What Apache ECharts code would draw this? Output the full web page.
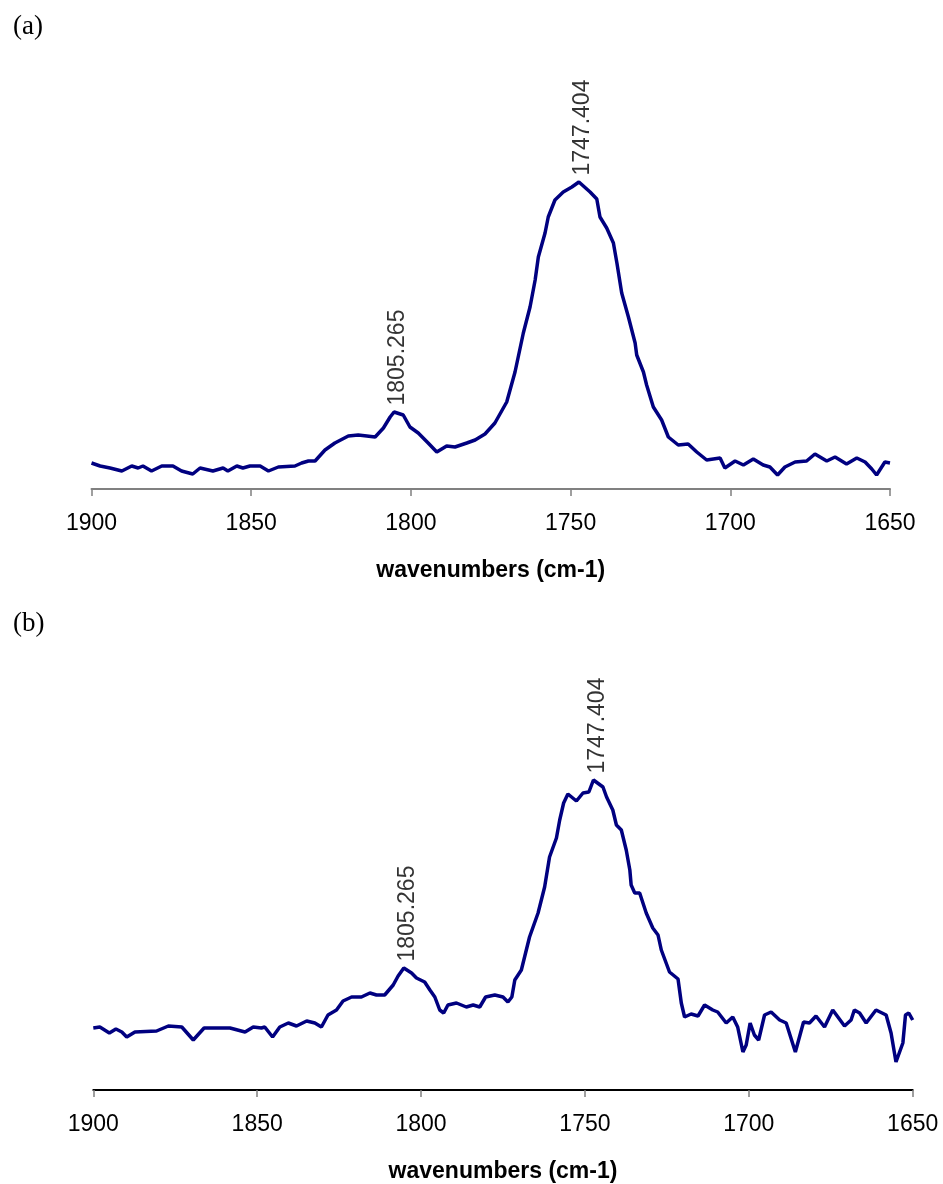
<!DOCTYPE html>
<html>
<head>
<meta charset="utf-8">
<script src="https://cdn.jsdelivr.net/npm/echarts@6/dist/echarts.min.js"></script>
<style>
html,body{margin:0;padding:0;background:#fff;}
#c{width:943px;height:1184px;}
</style>
</head>
<body>
<div id="c"></div>
<script>
// ---- data (arbitrary absorbance units) ----
var xTicks = [1900, 1850, 1800, 1750, 1700, 1650];
var axisTitle = 'wavenumbers (cm-1)';
var panelLabels = ['(a)', '(b)'];

var wavenumbersA = [1900,1897.3,1894.2,1890.5,1887.4,1885.4,1883.9,1881.2,1878.0,1874.5,1871.8,1868.3,1866.0,1862.0,1858.8,1857.3,1854.5,1852.6,1850.4,1847.2,1844.6,1841.5,1836.3,1834.2,1832.1,1830.0,1826.9,1823.8,1819.6,1816.5,1813.8,1811.2,1808.6,1806.5,1805.265,1802.4,1800.3,1797.7,1794.6,1791.9,1788.8,1786.2,1782.5,1779.9,1776.8,1773.7,1770.0,1767.4,1764.8,1762.7,1761.1,1760.1,1758.0,1757.0,1754.9,1752.3,1749.6,1747.404,1743.9,1741.8,1740.8,1738.7,1736.6,1735.5,1734.0,1731.9,1729.8,1729.3,1727.2,1726.2,1724.1,1721.5,1719.4,1716.3,1713.2,1710.5,1707.4,1703.2,1701.7,1698.5,1695.9,1692.8,1689.7,1687.6,1685.2,1682.9,1679.7,1676.1,1673.5,1669.8,1667.2,1663.6,1660.4,1657.8,1655.7,1654.2,1651.6,1650];
var absorbanceA = [26,23,21,18,23,21,23,18,23,23,18,15,21,18,21,18,23,21,23,23,18,22,23,26,28,28,39,46,53,54,53,52,61,72,77,74,62,56,46,37,43,42,46,49,55,66,87,117,156,182,209,232,256,272,289,297,302,307,297,290,272,261,246,226,196,172,146,134,117,104,82,69,52,44,45,37,29,31,21,28,24,30,24,22,14,22,27,28,35,28,32,25,31,27,20,14,27,26];

var wavenumbersB = [1900,1898.0,1895.1,1893.1,1891.3,1889.8,1887.3,1880.7,1877.1,1873.0,1869.5,1866.2,1858.3,1853.7,1851.2,1848.7,1847.7,1845.3,1843.1,1840.5,1838.0,1834.9,1832.4,1830.4,1828.4,1825.8,1823.8,1821.2,1818.2,1815.6,1813.6,1811.1,1808.5,1807.0,1805.265,1802.9,1801.4,1798.9,1797.3,1795.8,1794.3,1793.1,1791.8,1789.2,1786.2,1784.1,1782.1,1780.3,1777.5,1775.0,1773.5,1772.3,1771.4,1769.4,1766.9,1764.3,1762.3,1760.8,1758.7,1757.7,1756.5,1755.2,1752.6,1750.6,1748.8,1747.404,1744.5,1743.4,1741.5,1740.4,1738.9,1737.4,1736.3,1735.9,1734.8,1733.3,1731.3,1729.3,1727.7,1726.7,1724.2,1721.6,1720.6,1719.6,1717.6,1715.5,1713.5,1711.0,1709.5,1706.9,1704.9,1703.4,1701.8,1700.8,1699.6,1698.3,1697.0,1695.2,1693.2,1690.6,1688.6,1685.8,1683.3,1681.5,1679.5,1676.9,1674.4,1670.8,1668.8,1667.8,1666.2,1664.2,1661.2,1658.1,1656.6,1655.1,1653.0,1652.2,1651.2,1650];
var absorbanceB = [62,63,57,61,58,53,58,59,64,63,50,62,62,58,63,62,63,53,63,67,64,69,67,63,75,80,89,93,93,97,95,95,105,114,122,117,112,108,100,93,80,77,85,87,83,85,83,93,95,93,88,93,110,120,153,177,203,233,252,270,287,296,289,297,298,310,303,293,280,265,260,240,220,205,197,197,177,162,155,140,118,111,87,73,76,74,85,80,78,67,73,63,38,45,67,55,50,75,78,70,67,38,68,67,74,63,80,64,70,80,77,67,80,75,57,28,47,75,77,70];

var peakWaves = [1805.265, 1747.404];
var peakHeightsA = [77, 307];
var peakHeightsB = [122, 310];

function pairs(xs, ys){ var out=[]; for(var i=0;i<xs.length;i++) out.push([xs[i], ys[i]]); return out; }
function peakData(ys){ var out=[]; for(var i=0;i<peakWaves.length;i++) out.push({value:[peakWaves[i], ys[i]], name: peakWaves[i].toFixed(3)}); return out; }

var chart = echarts.init(document.getElementById('c'), null, {renderer:'canvas'});

function xAxisFor(idx, lineColor){
  return {
    gridIndex: idx, type: 'value', inverse: true, min: 1650, max: 1900, interval: 50,
    name: axisTitle, nameLocation: 'middle', nameGap: 70,
    nameTextStyle: {fontFamily: 'Liberation Sans, Arial, sans-serif', fontWeight: 'bold', fontSize: 23, color: '#000'},
    axisLine: {show: true, onZero: false, lineStyle: {color: lineColor, width: 2}},
    axisTick: {show: true, length: 7, lineStyle: {color: '#808080', width: 1.5}},
    axisLabel: {margin: 23, fontFamily: 'Liberation Sans, Arial, sans-serif', fontSize: 23, color: '#000',
      formatter: function(v){ return xTicks.indexOf(v) >= 0 ? String(v) : ''; }},
    splitLine: {show: false}
  };
}
function yAxisFor(idx){
  return {gridIndex: idx, type: 'value', min: 0, max: 400, show: false};
}
var lineStyle = {color: '#000080', width: 3.5};
function labelSeries(idx, ys){
  return {
    type: 'scatter', xAxisIndex: idx, yAxisIndex: idx, data: peakData(ys),
    symbolSize: 1, itemStyle: {color: 'rgba(0,0,0,0)'}, silent: true,
    label: {show: true, position: 'top', distance: 6, rotate: 90, align: 'left', verticalAlign: 'middle',
      offset: [0, 4],
      formatter: function(p){ return p.name; },
      fontFamily: 'Liberation Sans, Arial, sans-serif', fontSize: 23, color: '#000'}
  };
}

chart.setOption({
  animation: false,
  backgroundColor: '#fff',
  title: [
    {text: panelLabels[0], left: 8, top: 8, textStyle: {fontFamily: 'Liberation Serif, Times New Roman, serif', fontWeight: 'normal', fontSize: 27, color: '#000'}},
    {text: panelLabels[1], left: 8, top: 605, textStyle: {fontFamily: 'Liberation Serif, Times New Roman, serif', fontWeight: 'normal', fontSize: 27, color: '#000'}}
  ],
  grid: [
    {left: 91.5, right: 53, top: 89, height: 400},
    {left: 93.3, right: 30.3, top: 690, height: 400}
  ],
  xAxis: [xAxisFor(0, '#808080'), xAxisFor(1, '#000')],
  yAxis: [yAxisFor(0), yAxisFor(1)],
  series: [
    {type: 'line', xAxisIndex: 0, yAxisIndex: 0, data: pairs(wavenumbersA, absorbanceA), showSymbol: false, symbol: 'none', lineStyle: lineStyle, silent: true},
    {type: 'line', xAxisIndex: 1, yAxisIndex: 1, data: pairs(wavenumbersB, absorbanceB), showSymbol: false, symbol: 'none', lineStyle: lineStyle, silent: true},
    labelSeries(0, peakHeightsA),
    labelSeries(1, peakHeightsB)
  ]
});
</script>
</body>
</html>
